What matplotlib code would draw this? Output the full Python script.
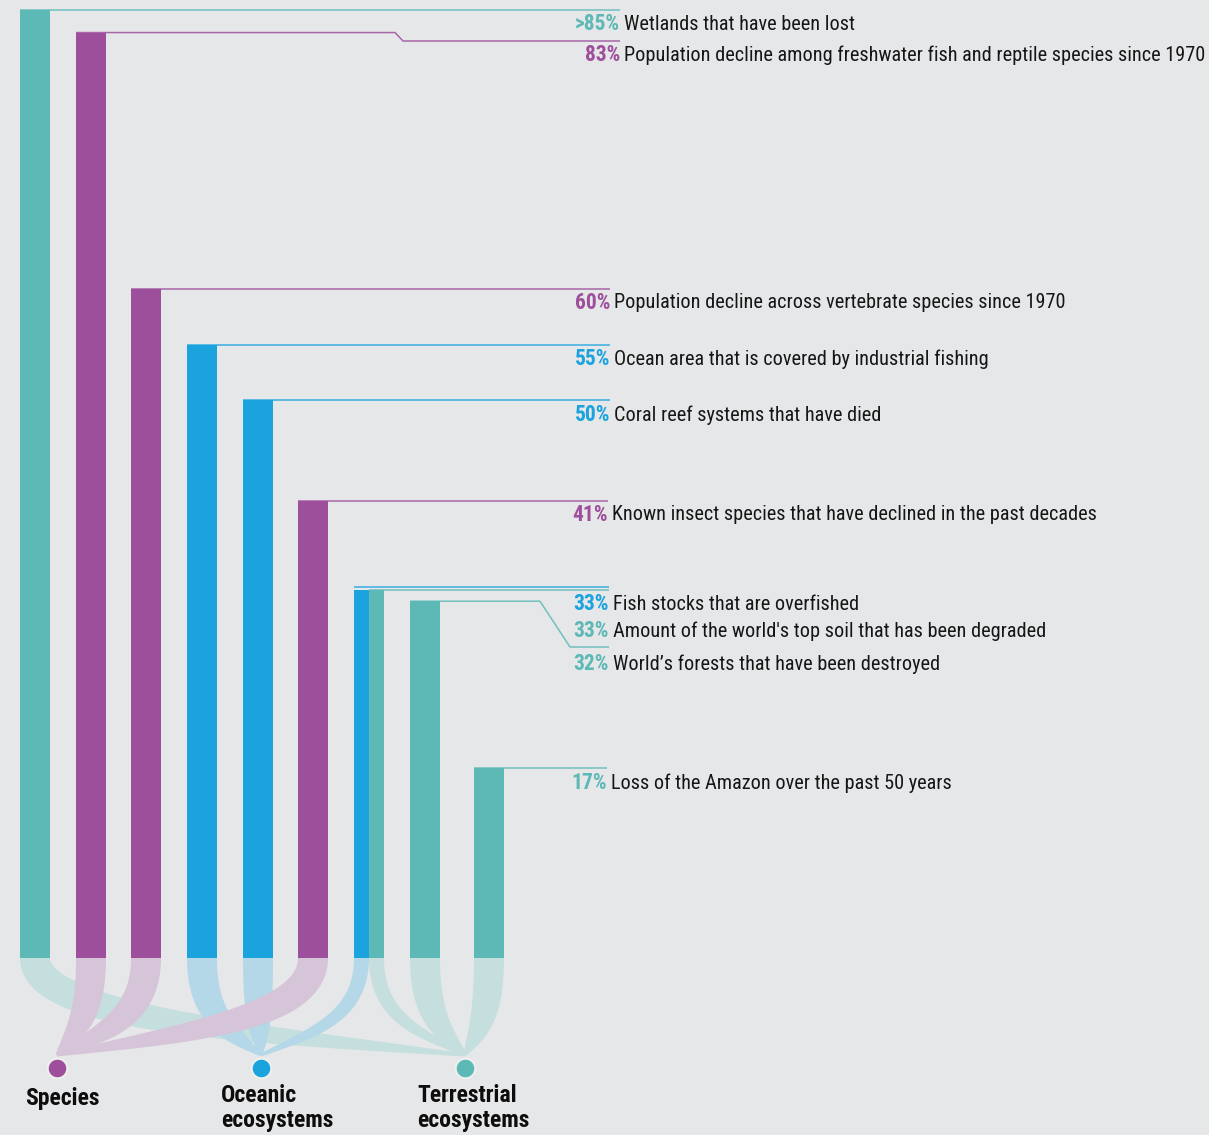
import numpy as np
import matplotlib
matplotlib.use("Agg")
import matplotlib.pyplot as plt

# ---------------- data ----------------
values = [85, 83, 60, 55, 50, 41, 33, 33, 32, 17]
pct_labels = [">85%", "83%", "60%", "55%", "50%", "41%", "33%", "33%", "32%", "17%"]
descriptions = [
    "Wetlands that have been lost",
    "Population decline among freshwater fish and reptile species since 1970",
    "Population decline across vertebrate species since 1970",
    "Ocean area that is covered by industrial fishing",
    "Coral reef systems that have died",
    "Known insect species that have declined in the past decades",
    "Fish stocks that are overfished",
    "Amount of the world's top soil that has been degraded",
    "World’s forests that have been destroyed",
    "Loss of the Amazon over the past 50 years",
]
groups = ["Terrestrial", "Species", "Species", "Oceanic", "Oceanic", "Species",
          "Oceanic", "Terrestrial", "Terrestrial", "Terrestrial"]
group_names = ["Species", "Oceanic", "Terrestrial"]
group_labels = ["Species", "Oceanic\necosystems", "Terrestrial\necosystems"]

# ---------------- style / layout (pixels) ----------------
W, H = 1209, 1135
BASE_PX = 958.0          # pixel row of 0 %
PX_PER_PCT = 11.15
BG = "#e6e7e9"
col = {"Species": "#9e4f9c", "Oceanic": "#1ba3dd", "Terrestrial": "#5db9b5"}
flow_col = {"Species": "#d6c4d8", "Oceanic": "#b4d8e8", "Terrestrial": "#c4dfde"}
dot_x = {"Species": 57, "Oceanic": 261, "Terrestrial": 465}
DOT_Y = 1068
TIP_Y = 1055
label_x = {"Species": 25, "Oceanic": 221, "Terrestrial": 417}
label_cy = {"Species": 1098, "Oceanic": 1108, "Terrestrial": 1108}

bar_left = [20, 76, 131, 187, 243, 298, 354, 369, 410, 474]
bar_w = [30, 30, 30, 30, 30, 30, 15, 15, 30, 30]
line_end = [620, 620, 610, 610, 610, 608, 609, 609, 609, 607]
line_dy = [0, 0, 0, 0, 0, 0, -3, 0, 0, 0]          # pixel offset of leader line
text_y = [24, 55, 303, 359, 415, 515, 604, 631, 664, 783]
# kinks: (x_start, x_end, y_end_px)
kinks = {1: (395, 403, 41), 8: (540, 570, 647)}

FONT = ["Roboto Condensed", "Liberation Sans Narrow", "Roboto", "DejaVu Sans"]


def v(py):
    """pixel row -> percent data units"""
    return (BASE_PX - py) / PX_PER_PCT


fig = plt.figure(figsize=(W / 100, H / 100), dpi=100, facecolor=BG)
ax = fig.add_axes([0, 0, 1, 1])
ax.set_facecolor(BG)
ax.set_xlim(0, W)
ax.set_ylim(v(H), v(0))
ax.axis("off")

# ---------------- flows ----------------
def bez(p0, p1, p2, p3, t):
    t = t[:, None]
    return ((1 - t) ** 3) * p0 + 3 * ((1 - t) ** 2) * t * p1 + 3 * (1 - t) * t ** 2 * p2 + t ** 3 * p3


def dbez(p0, p1, p2, p3, t):
    t = t[:, None]
    return 3 * ((1 - t) ** 2) * (p1 - p0) + 6 * (1 - t) * t * (p2 - p1) + 3 * t ** 2 * (p3 - p2)


order = {"Terrestrial": 1, "Oceanic": 2, "Species": 3}
t = np.linspace(0, 1, 240)
for i, g in enumerate(groups):
    cx = bar_left[i] + bar_w[i] / 2
    tx = dot_x[g]
    p0 = np.array([cx, BASE_PX])
    p1 = np.array([cx, BASE_PX + 60])
    p2 = np.array([tx + (cx - tx) * 0.5, TIP_Y - 22])
    p3 = np.array([tx, TIP_Y])
    c = bez(p0, p1, p2, p3, t)
    d = dbez(p0, p1, p2, p3, t)
    d = d / np.linalg.norm(d, axis=1)[:, None]
    nrm = np.column_stack([-d[:, 1], d[:, 0]])
    w0, wt = bar_w[i], 3.0
    wid = wt + (w0 - wt) * (1 - t ** 2.0)
    left = c + nrm * (wid[:, None] / 2)
    right = c - nrm * (wid[:, None] / 2)
    poly = np.vstack([left, right[::-1]])
    ax.fill(poly[:, 0], v(poly[:, 1]), color=flow_col[g], lw=0, zorder=order[g])

# ---------------- leader lines ----------------
for i, g in enumerate(groups):
    y0 = BASE_PX - values[i] * PX_PER_PCT + line_dy[i]
    xs = [bar_left[i]]
    ys = [y0]
    if i in kinks:
        ka, kb, ky = kinks[i]
        xs += [ka, kb]
        ys += [y0, ky]
        y_end = ky
    else:
        y_end = y0
    xs.append(line_end[i])
    ys.append(y_end)
    ax.plot(xs, v(np.array(ys)), color=col[g], lw=1.1, alpha=0.85,
            solid_capstyle="butt", zorder=4)

# ---------------- bars ----------------
for i, g in enumerate(groups):
    ax.bar(bar_left[i], values[i], width=bar_w[i], bottom=0, align="edge",
           color=col[g], lw=0, zorder=6)

# ---------------- labels ----------------
for i, g in enumerate(groups):
    ax.text(line_end[i], v(text_y[i]), pct_labels[i], ha="right", va="center",
            fontsize=15.5, fontweight="bold", color=col[g], family=FONT, zorder=7)
    ax.text(line_end[i] + 4, v(text_y[i]), descriptions[i], ha="left", va="center",
            fontsize=14.6, color="#161616", family=FONT, zorder=7)

# ---------------- dots & group labels ----------------
for gname, glabel in zip(group_names, group_labels):
    ax.scatter([dot_x[gname]], [v(DOT_Y)], s=200, color=col[gname],
               edgecolors="#eef0f0", linewidths=1.5, zorder=8)
    ax.text(label_x[gname], v(label_cy[gname]), glabel, ha="left", va="center",
            fontsize=17, fontweight="bold", color="#0d0d0d", family=FONT,
            linespacing=1.12, zorder=8)

fig.savefig("out.png", dpi=100, facecolor=BG)
